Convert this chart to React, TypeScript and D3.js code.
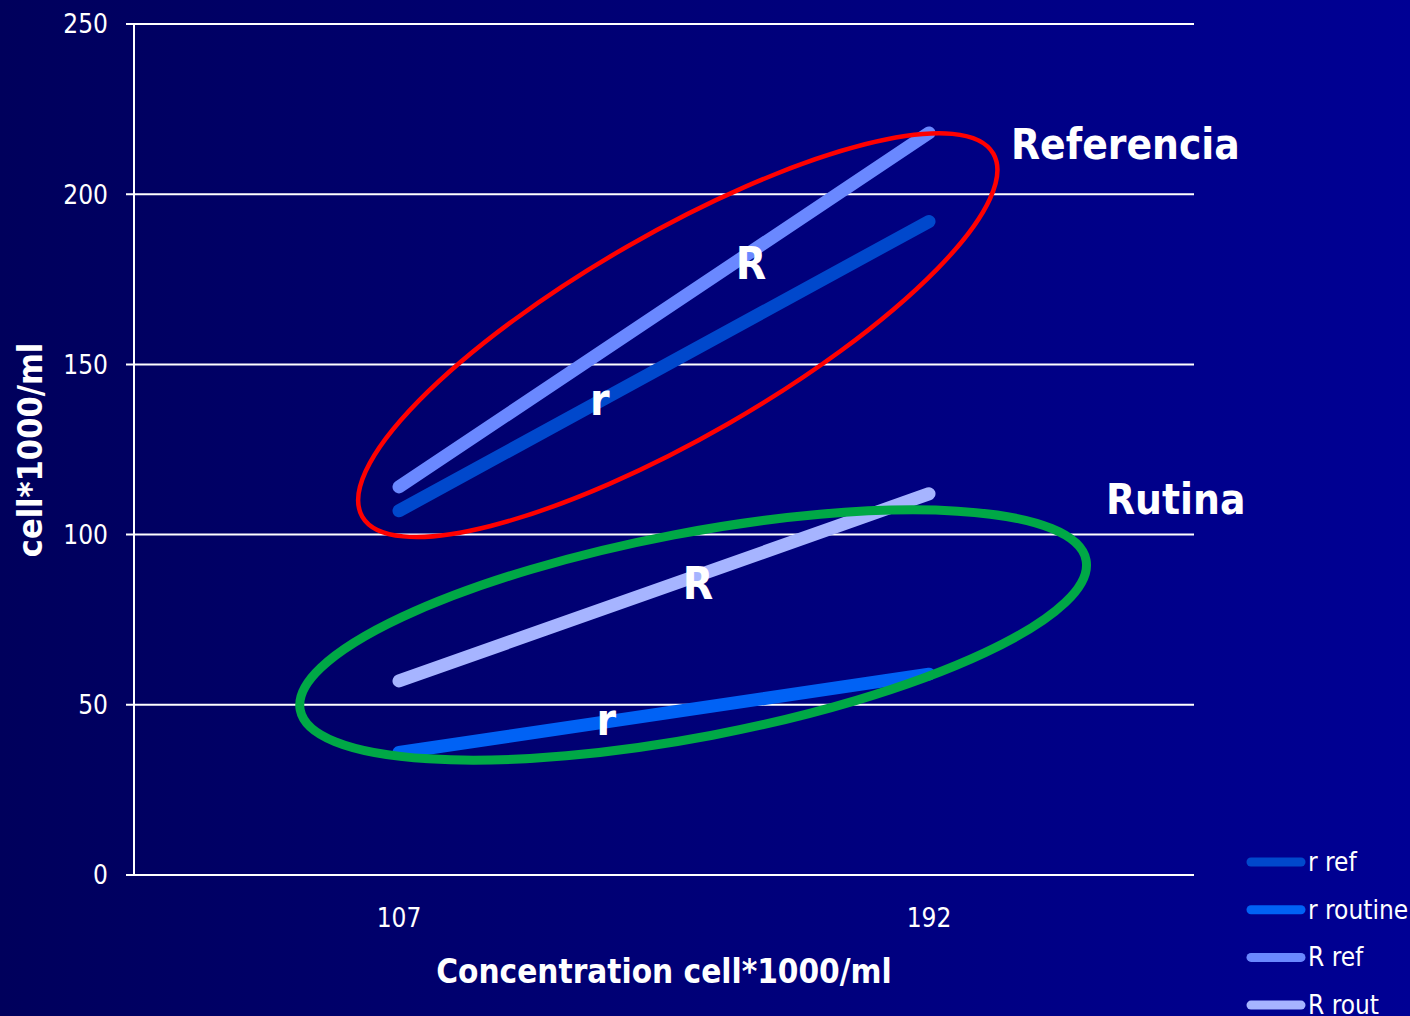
import React from "react";
import * as d3 from "d3";

const categories = ["107", "192"];
const rRef = [107, 192];
const rRoutine = [36, 59];
const RRef = [114, 218];
const RRout = [57, 112];
const yTicks = [0, 50, 100, 150, 200, 250];

const seriesNames = ["r ref", "r routine", "R ref", "R rout"];
const seriesValues = [rRef, rRoutine, RRef, RRout];
const seriesColors = ["#0048CC", "#0062F5", "#6A88FF", "#A6B4FF"];

// annotation ellipses in data terms: centre (fraction between categories, y value)
const annotations = [
  { name: "Referencia", t: 0.526, v: 158.6, rx: 364, ry: 102, angle: -29.9, color: "#FF0000", width: 4.5 },
  { name: "Rutina", t: 0.555, v: 70.5, rx: 400, ry: 102, angle: -10.8, color: "#00A846", width: 9 },
];
const letterLabels = [
  { text: "R", t: 0.664, v: 175 },
  { text: "r", t: 0.379, v: 135 },
  { text: "R", t: 0.564, v: 81 },
  { text: "r", t: 0.391, v: 41 },
];

const W = 1410;
const H = 1016;
const left = 134;
const right = 1194;
const top = 24;
const bottom = 875;
const FONT = "'DejaVu Sans Condensed', 'DejaVu Sans', sans-serif";

export default function App() {
  const x = d3.scalePoint<string>().domain(categories).range([left, right]).padding(0.5);
  const y = d3.scaleLinear().domain([0, 250]).range([bottom, top]);
  const x0 = x(categories[0])!;
  const x1 = x(categories[1])!;
  const tx = (t: number) => x0 + (x1 - x0) * t;
  const line = d3
    .line<number>()
    .x((_, i) => x(categories[i])!)
    .y((d) => y(d));

  return (
    <svg
      width={W}
      height={H}
      style={{ position: "absolute", left: 0, top: 0, display: "block" }}
      fontFamily={FONT}
      fontStretch="condensed"
    >
      <defs>
        <linearGradient id="bg" x1="0" x2="1" y1="0" y2="0">
          <stop offset="0" stopColor="#00005C" />
          <stop offset="1" stopColor="#000094" />
        </linearGradient>
      </defs>
      <rect x={0} y={0} width={W} height={H} fill="url(#bg)" />

      {/* grid + y ticks */}
      {yTicks.map((t) => (
        <g key={t}>
          <line x1={left - 8} x2={right} y1={y(t)} y2={y(t)} stroke="#FFFFFF" strokeWidth={2} />
          <text x={108} y={y(t)} dy="0.36em" textAnchor="end" fill="#FFFFFF" fontSize={26}>
            {t}
          </text>
        </g>
      ))}
      <line x1={left} x2={left} y1={top} y2={bottom} stroke="#FFFFFF" strokeWidth={2} />

      {/* x tick labels */}
      {categories.map((c) => (
        <text key={c} x={x(c)} y={927} textAnchor="middle" fill="#FFFFFF" fontSize={26}>
          {c}
        </text>
      ))}

      {/* series */}
      {seriesValues.map((vals, i) => (
        <path
          key={seriesNames[i]}
          d={line(vals)!}
          fill="none"
          stroke={seriesColors[i]}
          strokeWidth={13}
          strokeLinecap="round"
        />
      ))}

      {/* annotation ellipses */}
      {annotations.map((a) => {
        const cx = tx(a.t);
        const cy = y(a.v);
        return (
          <ellipse
            key={a.name}
            cx={cx}
            cy={cy}
            rx={a.rx}
            ry={a.ry}
            transform={`rotate(${a.angle} ${cx} ${cy})`}
            fill="none"
            stroke={a.color}
            strokeWidth={a.width}
          />
        );
      })}

      {letterLabels.map((l, i) => (
        <text key={i} x={tx(l.t)} y={y(l.v)} textAnchor="middle" fill="#FFFFFF" fontSize={44} fontWeight="bold">
          {l.text}
        </text>
      ))}

      <text x={1011} y={159} fill="#FFFFFF" fontSize={42} fontWeight="bold">
        Referencia
      </text>
      <text x={1106} y={514} fill="#FFFFFF" fontSize={42} fontWeight="bold">
        Rutina
      </text>

      {/* axis titles */}
      <text x={664} y={983} textAnchor="middle" fill="#FFFFFF" fontSize={33} fontWeight="bold">
        Concentration cell*1000/ml
      </text>
      <text
        transform={`translate(42 450) rotate(-90)`}
        textAnchor="middle"
        fill="#FFFFFF"
        fontSize={34}
        fontWeight="bold"
      >
        cell*1000/ml
      </text>

      {/* legend */}
      {seriesNames.map((n, i) => {
        const ly = 862 + i * 47.7;
        return (
          <g key={n}>
            <line x1={1251} x2={1301} y1={ly} y2={ly} stroke={seriesColors[i]} strokeWidth={9} strokeLinecap="round" />
            <text x={1308} y={ly + 9} fill="#FFFFFF" fontSize={26}>
              {n}
            </text>
          </g>
        );
      })}
    </svg>
  );
}
